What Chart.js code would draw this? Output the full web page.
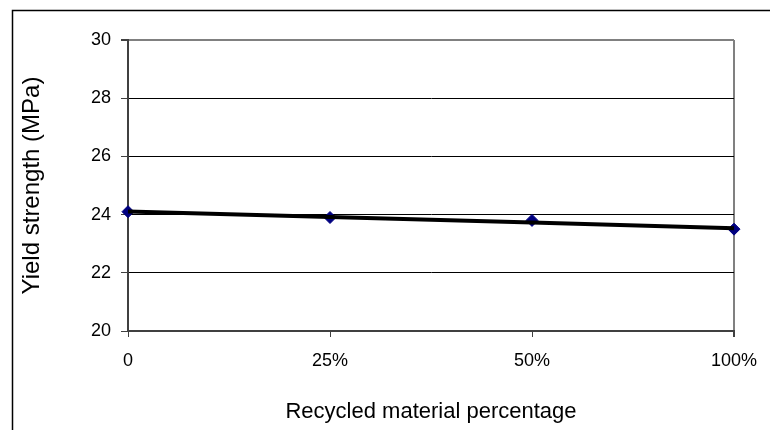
<!DOCTYPE html>
<html>
<head>
<meta charset="utf-8">
<script src="https://cdn.jsdelivr.net/npm/chart.js@4"></script>
<style>
  html, body { margin: 0; padding: 0; background: #fff; }
  #wrap { width: 771px; height: 430px; position: relative; }
</style>
</head>
<body>
<div id="wrap"><canvas id="canvas1" width="771" height="430"></canvas></div>
<script>
let categories = ["0", "25%", "50%", "100%"];
let yieldStrength = [24.1, 23.9, 23.8, 23.5];
// linear trend line as it is drawn in the picture
let trendValues = [24.11, 23.92, 23.73, 23.53];
let yTicks = [20, 22, 24, 26, 28, 30];

let ctx1 = document.getElementById("canvas1").getContext("2d");

// outer frame of the chart object (only top and left edges are visible)
let framePlugin = {
  id: "frame",
  beforeDraw(chart) {
    let c = chart.ctx;
    c.save();
    c.strokeStyle = "#000";
    c.lineWidth = 1.5;
    c.beginPath();
    c.moveTo(12.5, 430);
    c.lineTo(12.5, 10.5);
    c.lineTo(770, 10.5);
    c.stroke();
    c.restore();
  },
};

let config1 = {
  type: "line",
  data: {
    labels: categories,
    datasets: [
      {
        label: "Trend",
        data: trendValues,
        borderColor: "#000",
        borderWidth: 4,
        pointRadius: 0,
        fill: false,
        tension: 0,
        order: 0,
      },
      {
        label: "Yield strength",
        data: yieldStrength,
        showLine: false,
        pointStyle: "rectRot",
        pointRadius: 6,
        pointBackgroundColor: "#000080",
        pointBorderColor: "#000080",
        pointBorderWidth: 1,
        order: 1,
      },
    ],
  },
  options: {
    responsive: false,
    animation: false,
    layout: {
      padding: { left: 0, right: 37, top: 40, bottom: 0 },
    },
    plugins: {
      legend: { display: false },
      tooltip: { enabled: false },
    },
    scales: {
      x: {
        type: "category",
        offset: false,
        afterFit(scale) {
          scale.height = 99;
        },
        grid: {
          drawOnChartArea: true,
          color: (c) => (c.index === categories.length - 1 ? "#808080" : "rgba(0,0,0,0)"),
          lineWidth: (c) => (c.index === categories.length - 1 ? 2 : 1),
          tickColor: "#404040",
          tickLength: 6,
        },
        border: { color: "#404040", width: 2 },
        ticks: {
          color: "#000",
          padding: 13,
          maxRotation: 0,
          font: { family: "'Liberation Sans', Arial, sans-serif", size: 18 },
        },
        title: {
          display: true,
          text: "Recycled material percentage",
          color: "#000",
          padding: { top: 0, bottom: 5 },
          font: { family: "'Liberation Sans', Arial, sans-serif", size: 22 },
        },
      },
      y: {
        min: 20,
        max: 30,
        afterFit(scale) {
          scale.width = 128;
        },
        afterBuildTicks(scale) {
          scale.ticks = yTicks.map((v) => ({ value: v }));
        },
        grid: {
          color: (c) => (c.tick && c.tick.value === 30 ? "#808080" : "#000"),
          lineWidth: (c) => (c.tick && c.tick.value === 30 ? 2 : 1),
          tickColor: "#404040",
          tickLength: 7,
        },
        border: { color: "#404040", width: 2 },
        ticks: {
          color: "#000",
          padding: 10,
          font: { family: "'Liberation Sans', Arial, sans-serif", size: 18 },
        },
        title: {
          display: true,
          text: "Yield strength (MPa)",
          color: "#000",
          padding: { top: 18, bottom: 0 },
          font: { family: "'Liberation Sans', Arial, sans-serif", size: 24 },
        },
      },
    },
  },
  plugins: [framePlugin],
};
let chart1 = new Chart(ctx1, config1);
</script>
</body>
</html>
